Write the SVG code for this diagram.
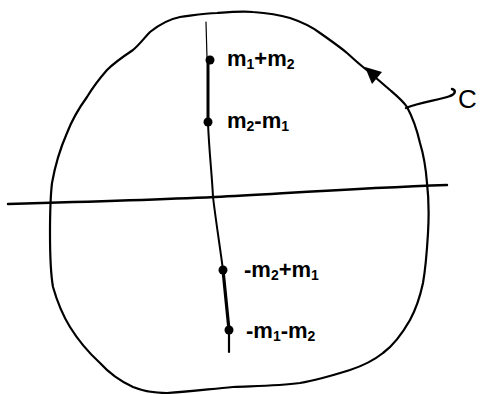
<svg xmlns="http://www.w3.org/2000/svg" width="490" height="394" viewBox="0 0 490 394">
<style>
.ln{fill:none;stroke:#000;stroke-linecap:round;stroke-linejoin:round}
.lb{font-family:"Liberation Sans",Arial,sans-serif;font-size:22px;font-weight:bold;fill:#000}
.sb{font-size:14px}
</style>
<rect width="490" height="394" fill="#fff"/>
<g id="contour">
<path class="ln" stroke-width="2.2" d="M150,32 C160,24 170,19 180,17 C195,15 205,13 217,13 C230,12 242,11 253,12 C268,13 280,15 290,18 C302,22 312,27 320,33 C330,40 340,47 347,53 C355,60 360,65 367,70 C376,78 383,84 390,90 C397,96 403,101 407,107 C413,118 417,130 420,143 C424,156 426,170 427,183 C429,200 429,216 428,233 C427,250 426,266 423,283 C420,297 416,309 410,320 C402,334 394,345 383,353 C373,361 362,366 350,370 C334,375 318,380 300,383 C278,386 255,386 233,387 C210,389 188,392 167,393 C155,393 143,391 133,387 C120,381 109,373 100,363 C88,352 78,340 70,327 C62,314 57,301 53,287 C50,270 50,251 50,233 C50,216 50,200 52,183 C55,166 60,149 67,133 C72,120 79,108 87,97 C93,87 100,78 107,70 C115,62 124,56 133,50 C140,44 145,37 150,32 Z"/>
<polygon points="365,67 382,72 372,84" fill="#000"/>
</g>
<g id="axes">
<path class="ln" stroke-width="2.4" d="M8,204 C80,202 150,200 215,197 C290,193 360,188 447,185"/>
<path class="ln" stroke-width="1.2" d="M206,22 L207,58"/>
<path class="ln" stroke-width="3" d="M208,60 L208,123"/>
<path class="ln" stroke-width="2" d="M208,123 C209,150 212,175 213,197 C216,222 220,247 223,270"/>
<path class="ln" stroke-width="3.2" d="M223,270 C225,290 227,310 229,330"/>
<path class="ln" stroke-width="2.2" d="M229,330 L229,352"/>
</g>
<g id="p1"><circle cx="210" cy="60" r="4.5"/><text class="lb" x="227" y="66">m<tspan class="sb" dy="3">1</tspan><tspan dy="-3">+m</tspan><tspan class="sb" dy="3">2</tspan></text></g>
<g id="p2"><circle cx="208" cy="122" r="4.5"/><text class="lb" x="227" y="128">m<tspan class="sb" dy="3">2</tspan><tspan dy="-3">-m</tspan><tspan class="sb" dy="3">1</tspan></text></g>
<g id="p3"><circle cx="223" cy="270" r="4.5"/><text class="lb" x="244" y="277">-m<tspan class="sb" dy="3">2</tspan><tspan dy="-3">+m</tspan><tspan class="sb" dy="3">1</tspan></text></g>
<g id="p4"><circle cx="229" cy="330" r="4.5"/><text class="lb" x="246" y="338">-m<tspan class="sb" dy="3">1</tspan><tspan dy="-3">-m</tspan><tspan class="sb" dy="3">2</tspan></text></g>
<g id="label-c">
<path class="ln" stroke-width="2.4" d="M406,108 C420,102 440,100 450,96 C456,94 456,90 452,89"/>
<text class="lb" x="458" y="108" style="font-size:26px;font-weight:normal">C</text>
</g>
</svg>
